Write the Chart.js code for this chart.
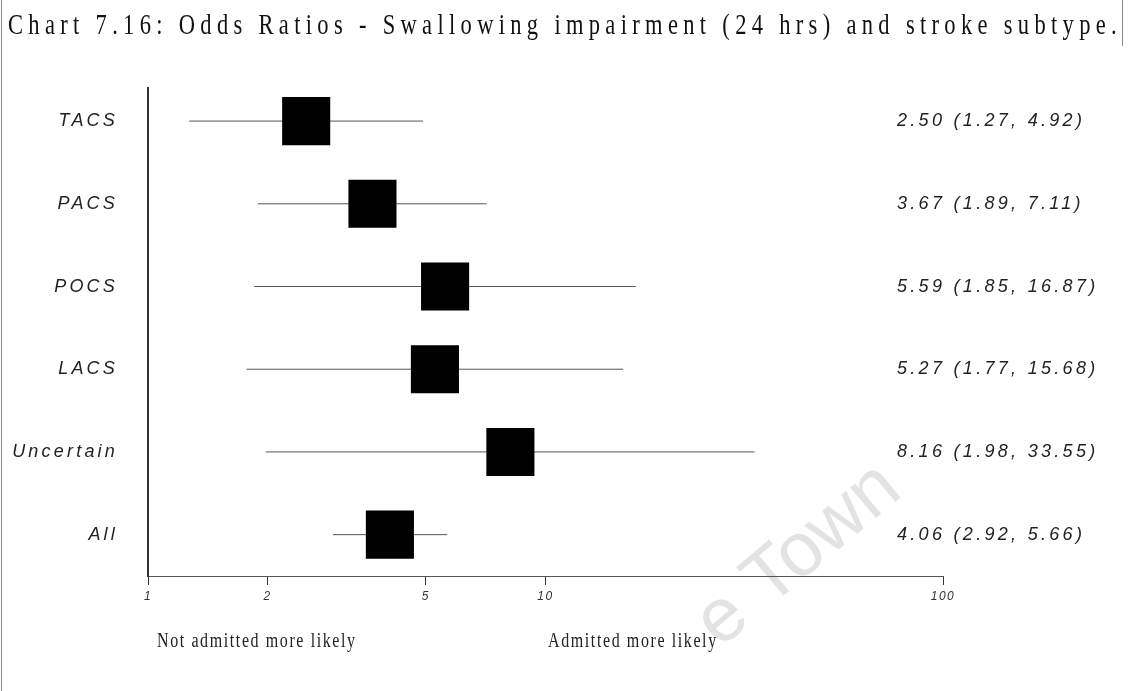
<!DOCTYPE html>
<html>
<head>
<meta charset="utf-8">
<script src="https://cdn.jsdelivr.net/npm/chart.js@4"></script>
<style>
  html, body { margin: 0; padding: 0; background: #fff; }
  #wrap { position: relative; width: 1136px; height: 691px; overflow: hidden; }
  #chart { position: absolute; left: 0; top: 0; }
  .title { position: absolute; left: 8px; top: 9px; font-family: "Liberation Serif", serif; font-size: 30px; line-height: 30px; letter-spacing: 7.1px; color: #111; white-space: nowrap; transform: scaleX(0.75); transform-origin: left top; }
  .note { position: absolute; top: 630px; font-family: "Liberation Serif", serif; font-size: 20px; line-height: 20px; letter-spacing: 2px; color: #222; white-space: nowrap; transform: scaleX(0.8); transform-origin: left top; }
  .edge { position: absolute; background: #888; }
</style>
</head>
<body>
<div id="wrap">
  <canvas id="chart" width="1136" height="691"></canvas>
  <div class="title">Chart 7.16: Odds Ratios - Swallowing impairment (24 hrs) and stroke subtype.</div>
  <div class="note" style="left:157px">Not admitted more likely</div>
  <div class="note" style="left:548px">Admitted more likely</div>
  <div class="edge" style="left:1px;top:0;width:1px;height:691px"></div>
  <div class="edge" style="left:1122px;top:0;width:1px;height:46px"></div>
</div>
<script>
// ── Data ───────────────────────────────────────────────
const subtypes = ['TACS', 'PACS', 'POCS', 'LACS', 'Uncertain', 'All'];
const oddsRatio = [2.50, 3.67, 5.59, 5.27, 8.16, 4.06];
const ciLower = [1.27, 1.89, 1.85, 1.77, 1.98, 2.92];
const ciUpper = [4.92, 7.11, 16.87, 15.68, 33.55, 5.66];
const xTicks = [1, 2, 5, 10, 100];

const fmt = v => v.toFixed(2);

// box markers first so they sit on top of the CI lines
const datasets = [{
    type: 'scatter',
    data: oddsRatio.map((v, i) => ({ x: v, y: i })),
    pointStyle: 'rect',
    pointRadius: 34,
    pointHoverRadius: 34,
    backgroundColor: '#000',
    borderWidth: 0
}];
subtypes.forEach((s, i) => {
    datasets.push({
        type: 'line',
        data: [{ x: ciLower[i], y: i }, { x: ciUpper[i], y: i }],
        borderColor: '#555',
        borderWidth: 1,
        pointRadius: 0
    });
});

// watermark, right-hand OR text and letter spacing for the axis labels
const extras = {
    id: 'extras',
    beforeDraw(chart) {
        const ctx = chart.ctx;
        ctx.save();
        ctx.letterSpacing = '0px';
        ctx.translate(720, 649);
        ctx.rotate(-40 * Math.PI / 180);
        ctx.font = '76px "Liberation Sans", Arial, sans-serif';
        ctx.fillStyle = '#e3e3e3';
        ctx.textBaseline = 'alphabetic';
        ctx.fillText('e Town', 0, 0);
        ctx.restore();
        ctx.letterSpacing = '3.2px';
    },
    beforeDatasetsDraw(chart) {
        chart.ctx.letterSpacing = '1.5px';
    },
    afterDraw(chart) {
        const ctx = chart.ctx;
        const y = chart.scales.y;
        ctx.save();
        ctx.letterSpacing = '3.3px';
        ctx.font = 'italic 18px "Liberation Sans", Arial, sans-serif';
        ctx.fillStyle = '#222';
        ctx.textAlign = 'left';
        ctx.textBaseline = 'middle';
        subtypes.forEach((s, i) => {
            ctx.fillText(fmt(oddsRatio[i]) + ' (' + fmt(ciLower[i]) + ', ' + fmt(ciUpper[i]) + ')', 897, y.getPixelForValue(i));
        });
        ctx.restore();
        ctx.letterSpacing = '0px';
    }
};

new Chart(document.getElementById('chart').getContext('2d'), {
    data: { datasets },
    options: {
        responsive: false,
        animation: false,
        events: [],
        layout: { padding: { top: 88, right: 193, bottom: 0, left: 0 } },
        plugins: { legend: { display: false }, tooltip: { enabled: false } },
        scales: {
            x: {
                type: 'logarithmic',
                min: 1,
                max: 100,
                afterBuildTicks: sc => { sc.ticks = xTicks.map(v => ({ value: v })); },
                afterFit: sc => { sc.height = 115; },
                grid: { drawOnChartArea: false, tickLength: 9, color: '#333' },
                border: { color: '#555', width: 1 },
                ticks: {
                    z: 1,
                    callback: v => String(v),
                    color: '#333',
                    padding: 4,
                    maxRotation: 0,
                    autoSkip: false,
                    font: { family: '"Liberation Sans", Arial', size: 12, style: 'italic' }
                }
            },
            y: {
                type: 'linear',
                reverse: true,
                min: -0.4,
                max: 5.5,
                afterBuildTicks: sc => { sc.ticks = subtypes.map((s, i) => ({ value: i })); },
                afterFit: sc => { sc.width = 148; },
                grid: { display: false },
                border: { display: true, color: '#333', width: 2 },
                ticks: {
                    callback: v => subtypes[v],
                    color: '#222',
                    padding: 22,
                    font: { family: '"Liberation Sans", Arial', size: 18, style: 'italic' }
                }
            }
        }
    },
    plugins: [extras]
});
</script>
</body>
</html>
